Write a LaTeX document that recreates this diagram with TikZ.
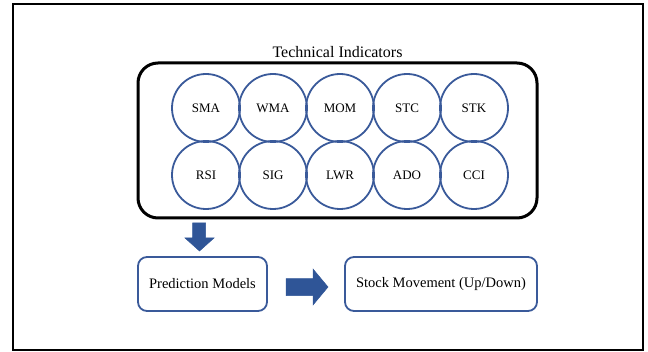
\documentclass[tikz,border=0pt]{standalone}
\usepackage{fontspec}
\setmainfont{Liberation Serif}
\usetikzlibrary{positioning}

\definecolor{indblue}{HTML}{3A5A9A}
\definecolor{arrblue}{HTML}{2F5597}

\begin{document}
\begin{tikzpicture}[x=1pt,y=1pt,node distance=67pt]
\tikzstyle{indicator}=[circle,draw=indblue,line width=1.8pt,minimum size=68pt,inner sep=0pt,font=\fontsize{13}{15}\selectfont]
\tikzstyle{groupbox}=[draw=black,line width=3pt,rounded corners=20pt,minimum width=399pt,minimum height=155pt]
\tikzstyle{stepbox}=[draw=indblue,line width=1.8pt,rounded corners=9pt,minimum height=54pt,font=\fontsize{14.5}{17}\selectfont]
\tikzstyle{blockarrow}=[fill=arrblue,draw=arrblue,line width=0.5pt]

\useasboundingbox (0,0) rectangle (648,351);
\draw[line width=2pt] (13,1) rectangle (643,347);

\node[groupbox] (group) at (337.5,210.5) {};
\node[above = 0pt of group, font=\fontsize{16}{19}\selectfont] (title) {Technical Indicators};

\node[indicator] (sma) at (206,243) {SMA};
\node[indicator] (wma) [right of = sma] {WMA};
\node[indicator] (mom) [right of = wma] {MOM};
\node[indicator] (stc) [right of = mom] {STC};
\node[indicator] (stk) [right of = stc] {STK};
\node[indicator] (rsi) [below of = sma] {RSI};
\node[indicator] (sig) [right of = rsi] {SIG};
\node[indicator] (lwr) [right of = sig] {LWR};
\node[indicator] (ado) [right of = lwr] {ADO};
\node[indicator] (cci) [right of = ado] {CCI};

\node[stepbox, minimum width=129pt] (models) at (202.5,67) {Prediction Models};
\node[stepbox, minimum width=192pt] (movement) at (441,67) {Stock Movement (Up/Down)};

% block arrows
\draw[blockarrow] (192.5,128) -- (205.5,128) -- (205.5,113) -- (214,113) -- (199.5,100) -- (185,113) -- (192.5,113) -- cycle;
\draw[blockarrow] (286,72.5) -- (313,72.5) -- (313,82) -- (328,64) -- (313,46) -- (313,55.5) -- (286,55.5) -- cycle;
\end{tikzpicture}
\end{document}
